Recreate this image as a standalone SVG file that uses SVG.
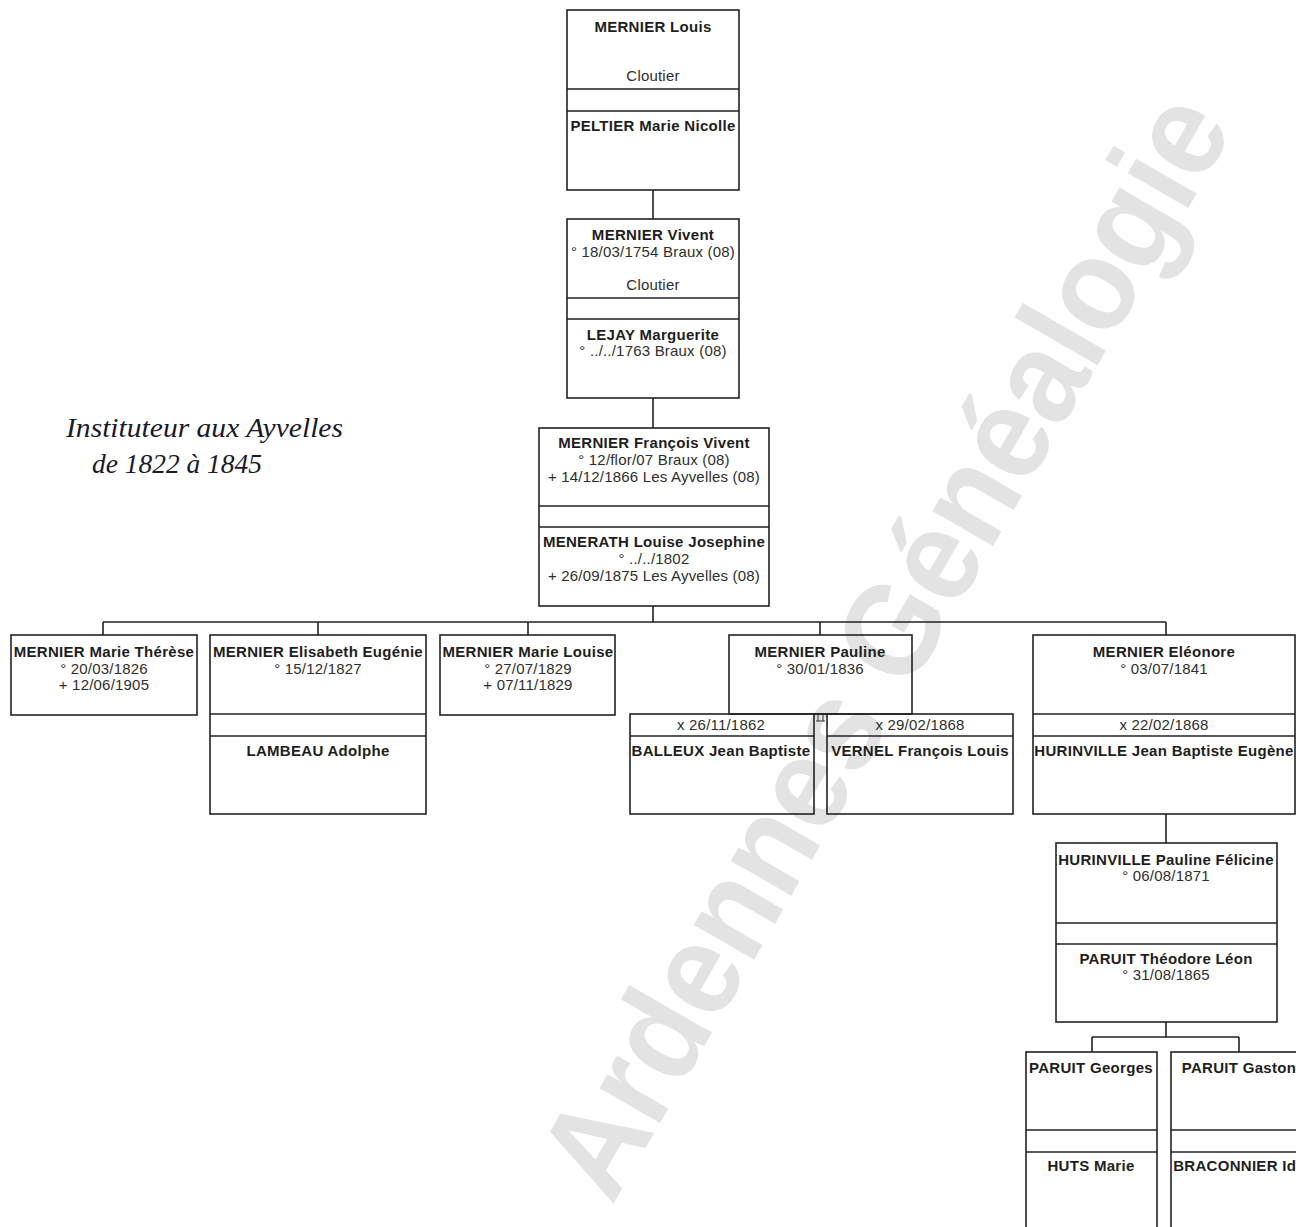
<svg xmlns="http://www.w3.org/2000/svg" width="1296" height="1227" viewBox="0 0 1296 1227">
<style>
.box{fill:none;stroke:#222;stroke-width:1.6}
.ln{fill:none;stroke:#222;stroke-width:1.6}
.tk{fill:none;stroke:#333;stroke-width:1}
.nm{font-family:"Liberation Sans",Arial,sans-serif;font-weight:bold;font-size:15px;letter-spacing:0.3px;fill:#1e1e1e;text-anchor:middle}
.dt{font-family:"Liberation Sans",Arial,sans-serif;font-size:15px;letter-spacing:0.2px;fill:#2e2e2e;text-anchor:middle}
.cal{font-family:"Liberation Serif","DejaVu Serif",serif;font-style:italic;font-size:28px;fill:#1a1a2a}
.wm{font-family:"Liberation Sans",Arial,sans-serif;font-weight:bold;font-size:132px;fill:#e3e3e3}
</style>
<rect width="1296" height="1227" fill="#fff"/>
<text class="wm" x="0" y="0" transform="translate(612,1206) rotate(-60)" textLength="1245" lengthAdjust="spacingAndGlyphs">Ardennes Généalogie</text>

<g id="caption">
<text class="cal" x="66" y="437" textLength="277" lengthAdjust="spacingAndGlyphs">Instituteur aux Ayvelles</text>
<text class="cal" x="92" y="473" textLength="170" lengthAdjust="spacingAndGlyphs">de 1822 à 1845</text>
</g>

<g id="connectors">
<path class="ln" d="M653 190V219M653 398V428M653 606V622M103 622H1166M103 622V635M318 622V635M528 622V635M820 622V635M1166 622V635"/>
<path class="ln" d="M1166 814V843M1166 1022V1037M1092 1037H1239M1092 1037V1052M1239 1037V1052"/>
<path class="ln" d="M814 714H827"/>
<path class="tk" d="M818 714V721M823 714V721M816 721H825"/>
</g>

<g id="n-louis">
<rect class="box" x="567" y="10" width="172" height="180"/>
<path class="ln" d="M567 89H739M567 111H739"/>
<text class="nm" x="653" y="32">MERNIER Louis</text>
<text class="dt" x="653" y="81">Cloutier</text>
<text class="nm" x="653" y="131">PELTIER Marie Nicolle</text>
</g>

<g id="n-vivent">
<rect class="box" x="567" y="219" width="172" height="179"/>
<path class="ln" d="M567 298H739M567 319H739"/>
<text class="nm" x="653" y="240">MERNIER Vivent</text>
<text class="dt" x="653" y="257">° 18/03/1754 Braux (08)</text>
<text class="dt" x="653" y="290">Cloutier</text>
<text class="nm" x="653" y="340">LEJAY Marguerite</text>
<text class="dt" x="653" y="356">° ../../1763 Braux (08)</text>
</g>

<g id="n-francois">
<rect class="box" x="539" y="428" width="230" height="178"/>
<path class="ln" d="M539 506H769M539 527H769"/>
<text class="nm" x="654" y="448">MERNIER François Vivent</text>
<text class="dt" x="654" y="465">° 12/flor/07 Braux (08)</text>
<text class="dt" x="654" y="482">+ 14/12/1866 Les Ayvelles (08)</text>
<text class="nm" x="654" y="547">MENERATH Louise Josephine</text>
<text class="dt" x="654" y="564">° ../../1802</text>
<text class="dt" x="654" y="581">+ 26/09/1875 Les Ayvelles (08)</text>
</g>

<g id="n-therese">
<rect class="box" x="11" y="635" width="186" height="80"/>
<text class="nm" x="104" y="657">MERNIER Marie Thérèse</text>
<text class="dt" x="104" y="674">° 20/03/1826</text>
<text class="dt" x="104" y="690">+ 12/06/1905</text>
</g>

<g id="n-elisabeth">
<rect class="box" x="210" y="635" width="216" height="179"/>
<path class="ln" d="M210 714H426M210 736H426"/>
<text class="nm" x="318" y="657">MERNIER Elisabeth Eugénie</text>
<text class="dt" x="318" y="674">° 15/12/1827</text>
<text class="nm" x="318" y="756">LAMBEAU Adolphe</text>
</g>

<g id="n-marielouise">
<rect class="box" x="440" y="635" width="175" height="80"/>
<text class="nm" x="528" y="657">MERNIER Marie Louise</text>
<text class="dt" x="528" y="674">° 27/07/1829</text>
<text class="dt" x="528" y="690">+ 07/11/1829</text>
</g>

<g id="n-pauline">
<rect class="box" x="729" y="635" width="183" height="79"/>
<text class="nm" x="820" y="657">MERNIER Pauline</text>
<text class="dt" x="820" y="674">° 30/01/1836</text>
</g>

<g id="n-balleux">
<rect class="box" x="630" y="714" width="184" height="100"/>
<path class="ln" d="M630 736H814"/>
<text class="dt" x="721" y="730">x 26/11/1862</text>
<text class="nm" x="721" y="756">BALLEUX Jean Baptiste</text>
</g>

<g id="n-vernel">
<rect class="box" x="827" y="714" width="186" height="100"/>
<path class="ln" d="M827 736H1013"/>
<text class="dt" x="920" y="730">x 29/02/1868</text>
<text class="nm" x="920" y="756">VERNEL François Louis</text>
</g>

<g id="n-eleonore">
<rect class="box" x="1033" y="635" width="262" height="179"/>
<path class="ln" d="M1033 714H1295M1033 736H1295"/>
<text class="nm" x="1164" y="657">MERNIER Eléonore</text>
<text class="dt" x="1164" y="674">° 03/07/1841</text>
<text class="dt" x="1164" y="730">x 22/02/1868</text>
<text class="nm" x="1164" y="756">HURINVILLE Jean Baptiste Eugène</text>
</g>

<g id="n-felicine">
<rect class="box" x="1056" y="843" width="221" height="179"/>
<path class="ln" d="M1056 923H1277M1056 944H1277"/>
<text class="nm" x="1166" y="865">HURINVILLE Pauline Félicine</text>
<text class="dt" x="1166" y="881">° 06/08/1871</text>
<text class="nm" x="1166" y="964">PARUIT Théodore Léon</text>
<text class="dt" x="1166" y="980">° 31/08/1865</text>
</g>

<g id="n-georges">
<rect class="box" x="1026" y="1052" width="131" height="200"/>
<path class="ln" d="M1026 1130H1157M1026 1152H1157"/>
<text class="nm" x="1091" y="1073">PARUIT Georges</text>
<text class="nm" x="1091" y="1171">HUTS Marie</text>
</g>

<g id="n-gaston">
<rect class="box" x="1171" y="1052" width="136" height="200"/>
<path class="ln" d="M1171 1130H1307M1171 1152H1307"/>
<text class="nm" x="1239" y="1073">PARUIT Gaston</text>
<text class="nm" x="1239" y="1171">BRACONNIER Ida</text>
</g>
</svg>
